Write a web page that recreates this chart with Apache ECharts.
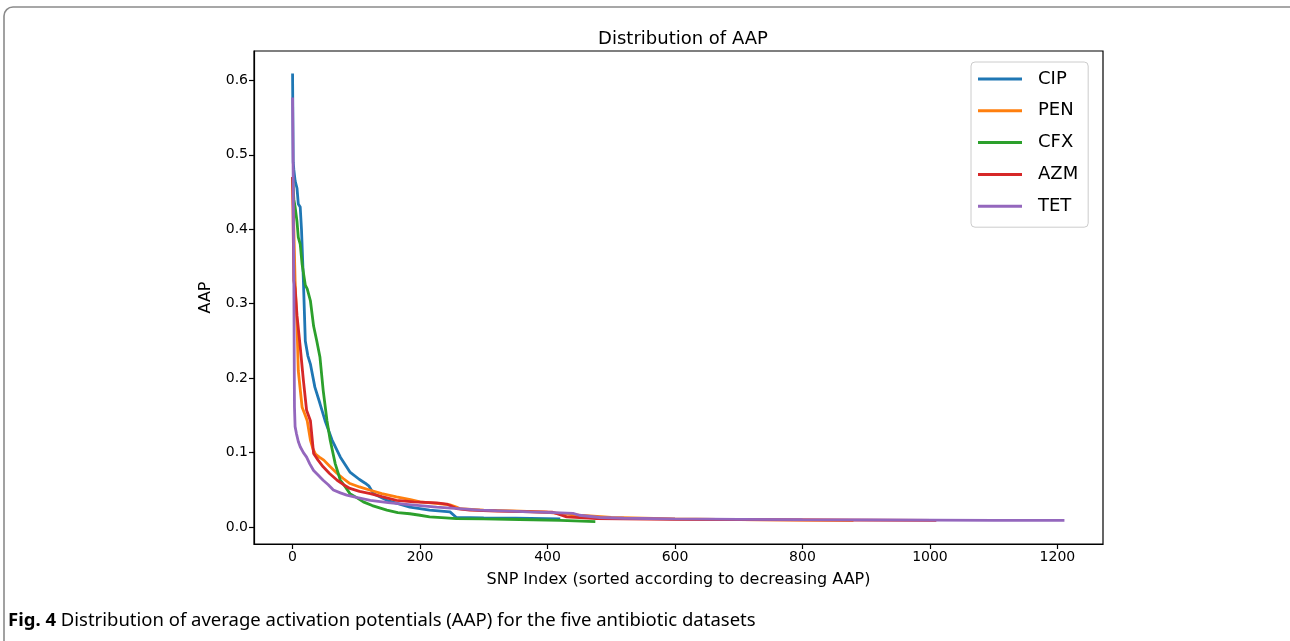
<!DOCTYPE html>
<html>
<head>
<meta charset="utf-8">
<script src="https://cdn.jsdelivr.net/npm/echarts@6/dist/echarts.min.js"></script>
<style>
html,body{margin:0;padding:0;background:#fff;}
#chart{width:1290px;height:641px;}
</style>
</head>
<body>
<div id="chart"></div>
<script>
// ---- data ----
const seriesNames = ['CIP', 'PEN', 'CFX', 'AZM', 'TET'];
const seriesColors = ['#1f77b4', '#ff7f0e', '#2ca02c', '#d62728', '#9467bd'];

const cipX = [0, 1, 2, 4, 7, 9, 12, 14, 17, 20, 24, 28, 35, 43, 51, 62, 75, 90, 105, 114, 120, 127, 148, 184, 215, 247, 257, 300, 350, 420];
const cipY = [0.609, 0.49, 0.48, 0.465, 0.455, 0.434, 0.43, 0.40, 0.331, 0.25, 0.23, 0.219, 0.188, 0.166, 0.143, 0.117, 0.094, 0.074, 0.064, 0.059, 0.055, 0.045, 0.036, 0.027, 0.023, 0.0205, 0.013, 0.0125, 0.012, 0.011];

const penX = [0, 1, 2, 4, 7, 9, 12, 15, 20, 23, 28, 32, 36, 42, 49, 58, 70, 80, 90, 105, 122, 140, 163, 185, 200, 225, 247, 257, 262, 300, 346, 400, 450, 500, 600, 700, 800, 880];
const penY = [0.47, 0.44, 0.40, 0.33, 0.27, 0.21, 0.185, 0.161, 0.15, 0.143, 0.117, 0.105, 0.098, 0.094, 0.090, 0.082, 0.072, 0.065, 0.0586, 0.054, 0.0496, 0.045, 0.0406, 0.037, 0.034, 0.032, 0.030, 0.027, 0.025, 0.023, 0.022, 0.020, 0.016, 0.013, 0.011, 0.010, 0.0095, 0.009];

const cfxX = [0, 2, 4, 7, 9, 12, 15, 20, 23, 28, 33, 38, 43, 48, 54, 59, 67, 75, 82, 90, 100, 111, 125, 148, 165, 184, 200, 215, 240, 257, 300, 356, 420, 475];
const cfxY = [0.47, 0.44, 0.43, 0.41, 0.389, 0.38, 0.353, 0.325, 0.32, 0.304, 0.27, 0.25, 0.228, 0.184, 0.143, 0.117, 0.085, 0.063, 0.055, 0.045, 0.040, 0.034, 0.029, 0.023, 0.0195, 0.018, 0.016, 0.0138, 0.0125, 0.0116, 0.011, 0.0103, 0.009, 0.0075];

const azmX = [0, 2, 4, 7, 12, 17, 22, 28, 33, 40, 48, 58, 70, 80, 90, 105, 122, 140, 163, 190, 226, 242, 257, 278, 320, 380, 408, 430, 477, 600, 800, 1010];
const azmY = [0.47, 0.331, 0.32, 0.284, 0.242, 0.197, 0.157, 0.143, 0.099, 0.090, 0.081, 0.072, 0.063, 0.057, 0.052, 0.048, 0.045, 0.041, 0.036, 0.034, 0.0326, 0.031, 0.025, 0.023, 0.0215, 0.0206, 0.0200, 0.0138, 0.0116, 0.0105, 0.0098, 0.009];

const tetX = [0, 1, 2, 3, 4, 6, 9, 12, 17, 22, 27, 33, 40, 48, 56, 64, 75, 85, 100, 122, 150, 174, 200, 226, 260, 294, 330, 372, 410, 440, 450, 482, 520, 600, 700, 800, 900, 1000, 1100, 1211];
const tetY = [0.577, 0.47, 0.33, 0.161, 0.135, 0.126, 0.115, 0.108, 0.100, 0.094, 0.085, 0.076, 0.070, 0.063, 0.057, 0.050, 0.046, 0.043, 0.040, 0.036, 0.033, 0.031, 0.029, 0.027, 0.025, 0.0228, 0.022, 0.0206, 0.0195, 0.0184, 0.016, 0.013, 0.012, 0.011, 0.0105, 0.010, 0.0098, 0.0095, 0.0092, 0.009];

const xTicks = [0, 200, 400, 600, 800, 1000, 1200];
const yTicks = [0.0, 0.1, 0.2, 0.3, 0.4, 0.5, 0.6];

const titleText = 'Distribution of AAP';
const xAxisName = 'SNP Index (sorted according to decreasing AAP)';
const yAxisName = 'AAP';
const captionBold = 'Fig. 4';
const captionRest = ' Distribution of average activation potentials (AAP) for the five antibiotic datasets';

// ---- build ----
const allX = [cipX, penX, cfxX, azmX, tetX];
const allY = [cipY, penY, cfxY, azmY, tetY];
const zip = (xs, ys) => xs.map((x, i) => [x, ys[i]]);

const FONT = 'DejaVu Sans';
const chart = echarts.init(document.getElementById('chart'), null, {renderer: 'canvas'});

const series = seriesNames.map((name, i) => ({
  name: name,
  type: 'line',
  data: zip(allX[i], allY[i]),
  showSymbol: false,
  symbol: 'none',
  lineStyle: {color: seriesColors[i], width: 2.8},
  itemStyle: {color: seriesColors[i]},
  z: 2 + i,
  animation: false
}));

chart.setOption({
  backgroundColor: '#ffffff',
  animation: false,
  title: {
    text: titleText,
    left: 678, top: 25, textAlign: 'center',
    textStyle: {fontFamily: FONT, fontSize: 18, fontWeight: 'normal', color: '#000'}
  },
  grid: {
    left: 254, top: 51, width: 849, height: 493,
    show: true, borderColor: '#000', borderWidth: 1.2, backgroundColor: 'transparent',
    containLabel: false
  },
  legend: {
    orient: 'vertical',
    left: 971, top: 62,
    data: seriesNames,
    icon: 'rect',
    itemWidth: 44, itemHeight: 3,
    itemGap: 9.8,
    padding: [6, 10, 10, 7],
    borderColor: '#cccccc', borderWidth: 1, borderRadius: 4,
    backgroundColor: '#fff',
    textStyle: {fontFamily: FONT, fontSize: 18, color: '#000', lineHeight: 22, padding: [0, 0, 0, 11]}
  },
  xAxis: {
    type: 'value',
    min: -60.5, max: 1271.5,
    name: xAxisName, nameLocation: 'middle', nameGap: 28,
    nameTextStyle: {fontFamily: FONT, fontSize: 16, color: '#000'},
    axisLine: {show: true, onZero: false, lineStyle: {color: '#000', width: 1.2}},
    axisTick: {show: true, inside: false, length: 5, customValues: xTicks, lineStyle: {color: '#000', width: 1.2}},
    axisLabel: {customValues: xTicks, fontFamily: FONT, fontSize: 14, color: '#000', margin: 6,
      formatter: v => String(Math.round(v))},
    splitLine: {show: false}
  },
  yAxis: {
    type: 'value',
    min: -0.0226, max: 0.6393,
    name: yAxisName, nameLocation: 'middle', nameGap: 40, nameRotate: 90,
    nameTextStyle: {fontFamily: FONT, fontSize: 16, color: '#000'},
    axisLine: {show: true, onZero: false, lineStyle: {color: '#000', width: 1.2}},
    axisTick: {show: true, inside: false, length: 5, customValues: yTicks, lineStyle: {color: '#000', width: 1.2}},
    axisLabel: {customValues: yTicks, fontFamily: FONT, fontSize: 14, color: '#000', margin: 6,
      formatter: v => Number(v).toFixed(1)},
    splitLine: {show: false}
  },
  graphic: [
    {
      type: 'rect', silent: true, z: 100,
      shape: {x: 4, y: 7, width: 1320, height: 700, r: 9},
      style: {fill: 'none', stroke: '#8a8a8a', lineWidth: 1.6}
    },
    {
      type: 'text', left: 8, top: 611, z: 100,
      style: {
        text: '{b|' + captionBold + '}{r|' + captionRest + '}',
        rich: {
          b: {fontFamily: 'Noto Sans', fontSize: 18.5, fontWeight: 'bold', fill: '#000'},
          r: {fontFamily: 'Noto Sans', fontSize: 18.5, fill: '#000'}
        }
      }
    }
  ],
  series: series
});
</script>
</body>
</html>
